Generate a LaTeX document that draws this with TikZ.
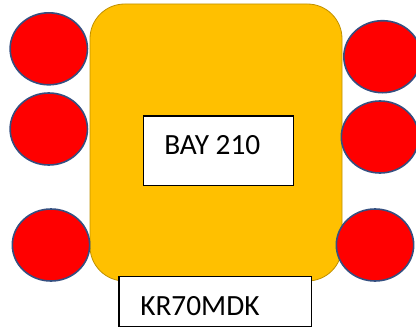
\documentclass[tikz,border=0pt]{standalone}
\usepackage{fontspec}
\setmainfont{Carlito}
\usetikzlibrary{shapes.geometric}
\definecolor{gold}{HTML}{FFC000}
\definecolor{golddark}{HTML}{BF9000}
\definecolor{wheelred}{HTML}{FF0000}
\definecolor{wheeledge}{HTML}{354F80}
\begin{document}
\begin{tikzpicture}[x=0.75pt,y=-0.75pt,
  body/.style={fill=gold,draw=golddark,line width=0.6pt,rounded corners=26pt},
  wheel/.style={ellipse,fill=wheelred,draw=wheeledge,line width=1.2pt,minimum width=58pt,minimum height=54pt,inner sep=0pt},
  tagbox/.style={draw=black,fill=white,line width=0.9pt,inner sep=0pt},
  tagtext/.style={anchor=base west,font=\fontsize{22}{26}\selectfont,inner sep=0pt}]
\useasboundingbox (0,0) rectangle (416,328);
\clip (0,0) rectangle (416,328);
\draw[body] (90,4) rectangle (342,281);
\node[wheel] (wl1) at (48.8,48.8) {};
\node[wheel] (wl2) at (48.8,129) {};
\node[wheel] (wl3) at (51,245) {};
\node[wheel] (wr1) at (382.5,56.7) {};
\node[wheel] (wr2) at (380,137) {};
\node[wheel] (wr3) at (375,245) {};
\node[tagbox,minimum width=112.5pt,minimum height=52pt] (bay) at (218.3,150.7) {};
\node[tagtext] (baytxt) at (164,154) {BAY 210};
\node[tagbox,minimum width=144.5pt,minimum height=37.5pt] (reg) at (215.3,301.7) {};
\node[tagtext] (regtxt) at (140,315) {KR70MDK};
\end{tikzpicture}
\end{document}
